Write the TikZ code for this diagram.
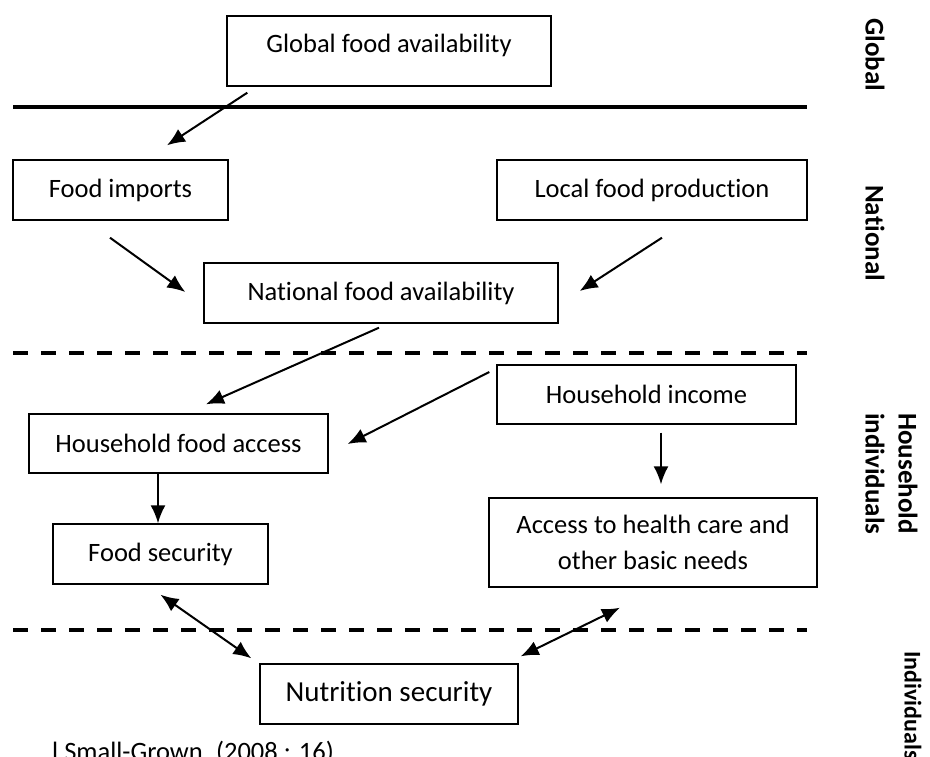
\documentclass[tikz,border=0pt]{standalone}
\usepackage{fontspec}
\setmainfont{Carlito}[Ligatures=NoCommon]
\usetikzlibrary{arrows.meta,calc}
\begin{document}
\begin{tikzpicture}[x=1pt,y=-1pt,
  box/.style={draw,line width=1.4pt,inner sep=0pt,align=center,
              font=\fontsize{26.5}{36}\selectfont},
  conn/.style={line width=2pt,-{Latex[length=18pt,width=15pt]}},
  biconn/.style={line width=2pt,{Latex[length=18pt,width=15pt]}-{Latex[length=18pt,width=15pt]}},
  level/.style={line width=3.2pt},
  sublevel/.style={line width=3.2pt,dash pattern=on 15pt off 13pt},
  tier/.style={font=\fontsize{27}{33}\selectfont\bfseries,rotate=-90,align=left,inner sep=0pt}
]
\useasboundingbox (0,0) rectangle (930,756);

% level separators
\coordinate (l1a) at (13,107);  \coordinate (l1b) at (807,107);
\coordinate (l2a) at (13,353);  \coordinate (l2b) at (807,353);
\coordinate (l3a) at (13,630);  \coordinate (l3b) at (807,630);
\draw[level] (l1a) -- (l1b);
\draw[sublevel] (l2a) -- (l2b);
\draw[sublevel] (l3a) -- (l3b);

% boxes
\node[box,minimum width=324pt,minimum height=70pt,text depth=14.5pt] (glob) at (389,51) {Global food availability};
\node[box,minimum width=215pt,minimum height=60pt] (imp) at (120.5,190) {Food imports};
\node[box,minimum width=310pt,minimum height=60pt] (loc) at (652,190) {Local food production};
\node[box,minimum width=354pt,minimum height=60pt] (nat) at (381,293) {National food availability};
\node[box,minimum width=299pt,minimum height=59pt] (inc) at (646.5,394.5) {Household income};
\node[box,minimum width=299pt,minimum height=59pt] (hfa) at (178.5,443.5) {Household food access};
\node[box,minimum width=215pt,minimum height=60pt] (fs) at (160.5,554) {Food security};
\node[box,minimum width=328pt,minimum height=89pt] (acc) at (653,542.5) {Access to health care and\\other basic needs};
\node[box,minimum width=258pt,minimum height=60pt,font=\fontsize{29}{36}\selectfont] (nut) at (389,694) {Nutrition security};

% connectors
\draw[conn] ($(glob.south west)+(21,6)$) -- ($(imp.north)+(46.5,-14)$);
\draw[conn] ($(imp.south)+(-10.5,17)$) -- ($(nat.west)+(-18,-1)$);
\draw[conn] ($(loc.south)+(10,17)$) -- ($(nat.east)+(21,-2)$);
\draw[conn] ($(nat.south)+(-2,4)$) -- ($(hfa.north)+(27.5,-9)$);
\draw[conn] ($(inc.west)+(-7,-22.5)$) -- ($(hfa.east)+(19,0.5)$);
\draw[conn] ($(inc.south)+(14.5,8)$) -- ($(acc.north)+(8,-13)$);
\draw[conn] ($(hfa.south)+(-20.5,0)$) -- ($(fs.north)+(-2.5,0)$);
\draw[biconn] ($(fs.south)+(0,10)$) -- ($(nut.north west)+(-8,-5)$);
\draw[biconn] ($(nut.north east)+(2,-7)$) -- ($(acc.south)+(-33,20)$);

% level names, read top to bottom
\node[tier,anchor=west] (tglob) at (875,18) {Global};
\node[tier,anchor=west] (tnat) at (875,185) {National};
\node[tier,anchor=west] (thh) at (891.5,413) {Household\\individuals};
\node[tier,anchor=west,font=\fontsize{24}{30}\selectfont\bfseries] (tind) at (913,651) {Individuals};

% source line
\node[anchor=base west,inner sep=0pt,font=\fontsize{26.5}{32}\selectfont] (src) at (52,760) {l Small-Grown\enspace(2008 : 16)};
\end{tikzpicture}
\end{document}
